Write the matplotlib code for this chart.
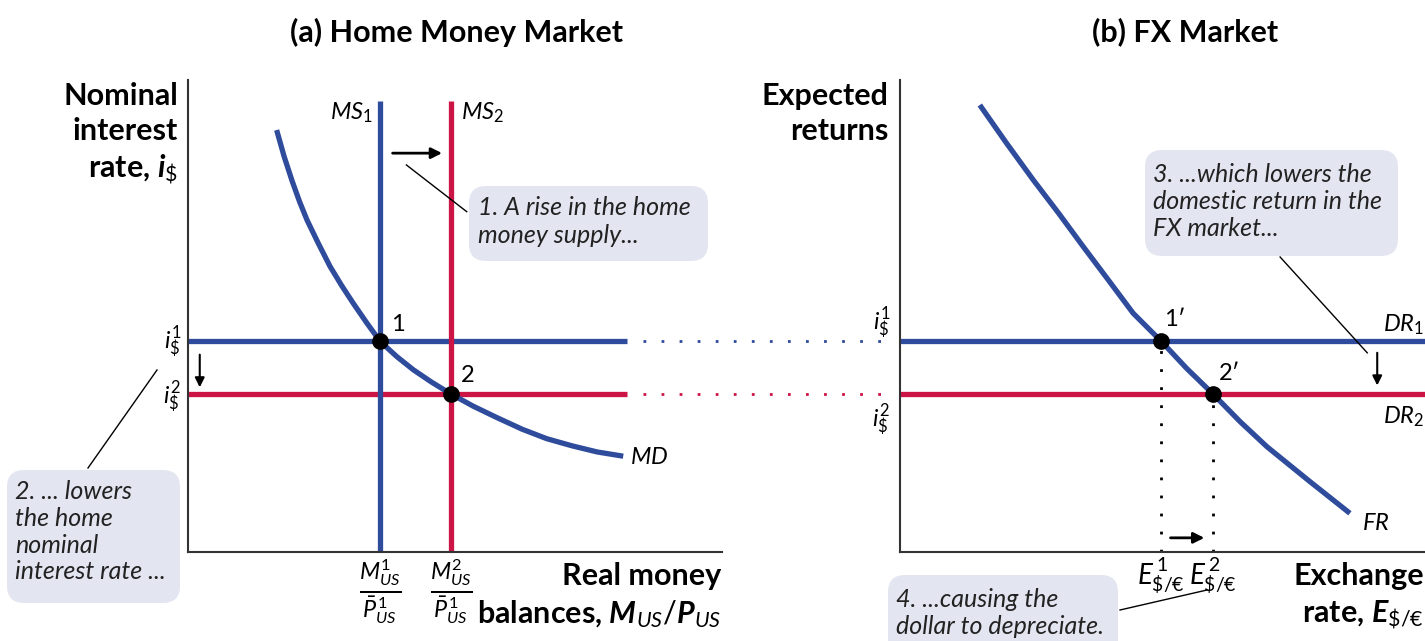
import matplotlib
matplotlib.use("Agg")
import matplotlib.pyplot as plt
from matplotlib.patches import FancyBboxPatch

plt.rcParams['font.family'] = ['Lato', 'DejaVu Sans']
plt.rcParams['mathtext.fontset'] = 'custom'
plt.rcParams['mathtext.it'] = 'Lato:italic'
plt.rcParams['mathtext.bf'] = 'Lato:italic:bold'
plt.rcParams['mathtext.rm'] = 'Lato'
plt.rcParams['mathtext.sf'] = 'Lato'

BLUE = '#2f4c9c'
RED = '#cc1545'
BOX = '#e3e5f0'

# (a) money market, abstract units 0..10
ms1_x = 3.60
ms2_x = 4.92
i1 = 4.46
i2 = 3.35
ms_top = 9.56
i_end = 8.22
dot_end = 13.15
md_x = [1.66, 1.80, 1.95, 2.09, 2.23, 2.44, 2.66, 2.88, 3.10, 3.35, 3.60, 3.91,
        4.22, 4.56, 4.92, 5.34, 5.78, 6.26, 6.72, 7.19, 7.66, 8.15]
md_y = [8.94, 8.38, 7.86, 7.42, 7.03, 6.54, 6.05, 5.64, 5.26, 4.85, 4.46, 4.14,
        3.86, 3.60, 3.35, 3.09, 2.85, 2.60, 2.40, 2.25, 2.12, 2.03]

# (b) FX market
e1 = 4.98
e2 = 5.96
fr_x = [1.52, 2.03, 2.54, 3.02, 3.49, 3.97, 4.44, 4.98, 5.46, 5.96, 6.48, 6.99, 7.81, 8.57]
fr_y = [9.47, 8.66, 7.88, 7.18, 6.47, 5.76, 5.06, 4.46, 3.89, 3.35, 2.76, 2.23, 1.49, 0.82]

W, H = 1425, 641
fig = plt.figure(figsize=(W / 100, H / 100), dpi=100)


def fx(x):
    return x / W


def fy(y):
    return 1 - y / H


ax1 = fig.add_axes([fx(188), fy(552), (722 - 188) / W, (552 - 80) / H])
ax2 = fig.add_axes([fx(900), fy(552), (1425 - 900) / W, (552 - 80) / H])

for ax in (ax1, ax2):
    ax.set_xlim(0, 10)
    ax.set_ylim(0, 10)
    for s in ('top', 'right'):
        ax.spines[s].set_visible(False)
    for s in ('left', 'bottom'):
        ax.spines[s].set_color('#333333')
        ax.spines[s].set_linewidth(1.5)
    ax.tick_params(length=0)
    ax.set_yticks([])

lw = 3.8
# panel (a)
ax1.plot([0, i_end], [i1, i1], color=BLUE, lw=lw, solid_capstyle='butt')
ax1.plot([0, i_end], [i2, i2], color=RED, lw=lw, solid_capstyle='butt')
ax1.plot([i_end + 0.3, dot_end], [i1, i1], color=BLUE, lw=2, ls=(0, (1, 5.5)), clip_on=False)
ax1.plot([i_end + 0.3, dot_end], [i2, i2], color=RED, lw=2, ls=(0, (1, 5.5)), clip_on=False)
ax1.plot([ms1_x, ms1_x], [0, ms_top], color=BLUE, lw=lw, solid_capstyle='butt')
ax1.plot([ms2_x, ms2_x], [0, ms_top], color=RED, lw=lw, solid_capstyle='butt')
ax1.plot(md_x, md_y, color=BLUE, lw=lw, solid_capstyle='butt', solid_joinstyle='round')
ax1.plot([ms1_x, ms2_x], [i1, i2], 'o', color='black', ms=11, zorder=5)

ax1.set_xticks([ms1_x, ms2_x])
ax1.set_xticklabels([r'$\frac{M^{1}_{US}}{\bar{P}^{\,1}_{US}}$',
                     r'$\frac{M^{2}_{US}}{\bar{P}^{\,1}_{US}}$'], fontsize=24)
ax1.tick_params(axis='x', pad=4)

ax1.annotate('', xy=(4.81, 8.45), xytext=(3.78, 8.45),
             arrowprops=dict(arrowstyle='-|>', color='black', lw=2, mutation_scale=16))
ax1.annotate('', xy=(0.22, 3.43), xytext=(0.22, 4.24),
             arrowprops=dict(arrowstyle='-|>', color='black', lw=1.5, mutation_scale=14))
ax1.plot([4.09, 5.22], [8.20, 7.21], color='black', lw=1)

# panel (b)
ax2.plot([0, 10], [i1, i1], color=BLUE, lw=lw, solid_capstyle='butt', clip_on=False)
ax2.plot([0, 10], [i2, i2], color=RED, lw=lw, solid_capstyle='butt', clip_on=False)
ax2.plot(fr_x, fr_y, color=BLUE, lw=lw, solid_capstyle='butt', solid_joinstyle='round')
ax2.plot([e1, e1], [0, i1], color='black', lw=2, ls=(0, (1, 5.5)))
ax2.plot([e2, e2], [0, i2], color='black', lw=2, ls=(0, (1, 5.5)))
ax2.plot([e1, e2], [i1, i2], 'o', color='black', ms=11, zorder=5)

ax2.set_xticks([e1, e2])
ax2.set_xticklabels([r'$E^{\,1}_{\$/€}$', r'$E^{\,2}_{\$/€}$'], fontsize=20)
ax2.tick_params(axis='x', pad=3)

ax2.annotate('', xy=(5.85, 0.30), xytext=(5.10, 0.30),
             arrowprops=dict(arrowstyle='-|>', color='black', lw=2, mutation_scale=16))
ax2.annotate('', xy=(9.09, 3.47), xytext=(9.09, 4.28),
             arrowprops=dict(arrowstyle='-|>', color='black', lw=1.5, mutation_scale=14))
ax2.plot([7.24, 8.90], [6.25, 4.22], color='black', lw=1)

# leaders outside axes, in figure pixels
fig.add_artist(plt.Line2D([fx(88), fx(157)], [fy(468), fy(370)], color='black', lw=1))
fig.add_artist(plt.Line2D([fx(1120), fx(1207)], [fy(610), fy(590)], color='black', lw=1))

# titles
fig.text(fx(457), fy(32), '(a) Home Money Market', fontsize=22, fontweight='bold',
         ha='center', va='center')
fig.text(fx(1185), fy(32), '(b) FX Market', fontsize=22, fontweight='bold',
         ha='center', va='center')

# axis labels
fig.text(fx(178), fy(82), 'Nominal\ninterest\nrate, $\\mathbf{i}_{\\$}$', fontsize=22,
         fontweight='bold', ha='right', va='top', linespacing=1.3)
fig.text(fx(888), fy(82), 'Expected\nreturns', fontsize=22, fontweight='bold',
         ha='right', va='top', linespacing=1.3)
fig.text(fx(721), fy(562), 'Real money\nbalances, $\\mathbf{M}_{US}/\\mathbf{P}_{US}$',
         fontsize=22, fontweight='bold', ha='right', va='top', linespacing=1.35)
fig.text(fx(1424), fy(562), 'Exchange\nrate, $\\mathbf{E}_{\\$/€}$', fontsize=22,
         fontweight='bold', ha='right', va='top', linespacing=1.35)

# y labels
fig.text(fx(181), fy(342), r'$i^{1}_{\$}$', fontsize=17, ha='right', va='center')
fig.text(fx(181), fy(397), r'$i^{2}_{\$}$', fontsize=17, ha='right', va='center')
fig.text(fx(890), fy(323), r'$i^{1}_{\$}$', fontsize=17, ha='right', va='center')
fig.text(fx(890), fy(420), r'$i^{2}_{\$}$', fontsize=17, ha='right', va='center')

# curve labels
fig.text(fx(373), fy(113), r'$MS_1$', fontsize=17, ha='right', va='center')
fig.text(fx(461), fy(113), r'$MS_2$', fontsize=17, ha='left', va='center')
fig.text(fx(630), fy(458), r'$MD$', fontsize=17, ha='left', va='center')
fig.text(fx(1424), fy(325), r'$DR_1$', fontsize=17, ha='right', va='center')
fig.text(fx(1424), fy(417), r'$DR_2$', fontsize=17, ha='right', va='center')
fig.text(fx(1362), fy(523), r'$FR$', fontsize=17, ha='left', va='center')

# point labels
fig.text(fx(398), fy(325), '1', fontsize=17, ha='center', va='center')
fig.text(fx(468), fy(376), '2', fontsize=17, ha='center', va='center')
fig.text(fx(1175), fy(320), "1\u2032", fontsize=17, ha='center', va='center')
fig.text(fx(1230), fy(374), "2\u2032", fontsize=17, ha='center', va='center')

# note boxes (x0, y0, x1, y1 in pixels from top-left)
boxes = [
    ((469, 186, 708, 261), (478, 196), '1. A rise in the home\nmoney supply...', 1.25),
    ((7, 470, 180, 603), (15, 480), '2. ... lowers\nthe home\nnominal\ninterest rate ...', 1.2),
    ((1145, 150, 1398, 256), (1153, 163), '3. ...which lowers the\ndomestic return in the\nFX market...', 1.22),
    ((888, 575, 1118, 660), (896, 588), '4. ...causing the\ndollar to depreciate.', 1.2),
]
for (x0, y0, x1, y1), (tx, ty), txt, sp in boxes:
    fig.add_artist(FancyBboxPatch((fx(x0), fy(y1)), (x1 - x0) / W, (y1 - y0) / H,
                                  boxstyle='round,pad=0,rounding_size=0.012',
                                  transform=fig.transFigure, facecolor=BOX,
                                  edgecolor='none', mutation_aspect=W / H))
    fig.text(fx(tx), fy(ty), txt, fontsize=18, style='italic', ha='left', va='top',
             linespacing=sp, color='#222222')

fig.savefig('out.png', dpi=100)
